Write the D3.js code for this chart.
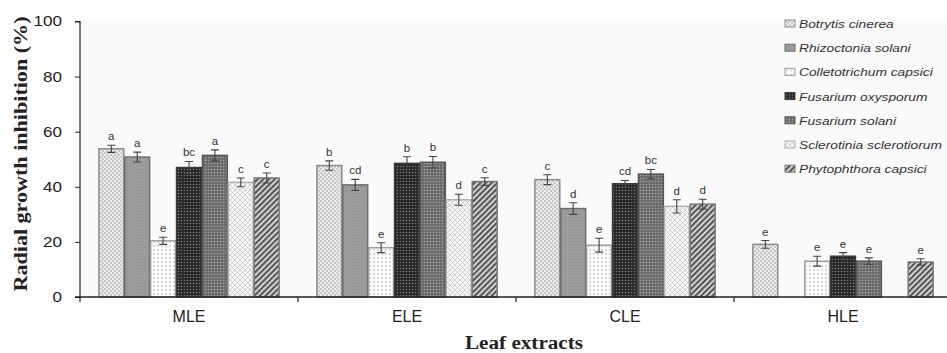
<!DOCTYPE html>
<html>
<head>
<meta charset="utf-8">
<script src="https://cdn.jsdelivr.net/npm/d3@7"></script>
<style>
  body { margin: 0; background: #fff; }
  svg { display: block; }
  .tick text { font-family: Arial, "Liberation Sans", sans-serif; }
</style>
</head>
<body>
<svg id="chart" width="947" height="353"></svg>
<script>
// leaf extracts on the x axis
var extracts = ["MLE", "ELE", "CLE", "HLE"];
var species = ["Botrytis cinerea", "Rhizoctonia solani", "Colletotrichum capsici",
  "Fusarium oxysporum", "Fusarium solani", "Sclerotinia sclerotiorum", "Phytophthora capsici"];

// mean inhibition (%) per species, in extract order MLE, ELE, CLE, HLE
var botrytis    = [53.8, 47.7, 42.6, 19.1];
var rhizoctonia = [50.8, 40.7, 32.1, 0];
var colleto     = [20.4, 17.9, 18.8, 13.0];
var fusOxy      = [47.0, 48.5, 41.1, 14.8];
var fusSolani   = [51.4, 48.9, 44.6, 13.0];
var sclero      = [41.6, 35.3, 32.9, 0];
var phyto       = [43.2, 41.9, 33.7, 12.7];

// standard errors
var errBotrytis    = [1.3, 1.7, 1.8, 1.4];
var errRhizoctonia = [1.8, 2.0, 2.1, 0];
var errColleto     = [1.3, 1.8, 2.5, 1.8];
var errFusOxy      = [2.2, 2.4, 1.2, 1.3];
var errFusSolani   = [2.0, 2.1, 1.7, 1.2];
var errSclero      = [1.6, 2.0, 2.4, 0];
var errPhyto       = [1.8, 1.4, 1.8, 1.2];

// significance letters
var lblBotrytis    = ["a", "b", "c", "e"];
var lblRhizoctonia = ["a", "cd", "d", ""];
var lblColleto     = ["e", "e", "e", "e"];
var lblFusOxy      = ["bc", "b", "cd", "e"];
var lblFusSolani   = ["a", "b", "bc", "e"];
var lblSclero      = ["c", "d", "d", ""];
var lblPhyto       = ["c", "c", "d", "e"];

var yTicks = [0, 20, 40, 60, 80, 100];

var means  = [botrytis, rhizoctonia, colleto, fusOxy, fusSolani, sclero, phyto];
var errs   = [errBotrytis, errRhizoctonia, errColleto, errFusOxy, errFusSolani, errSclero, errPhyto];
var labels = [lblBotrytis, lblRhizoctonia, lblColleto, lblFusOxy, lblFusSolani, lblSclero, lblPhyto];

var rows = [];
extracts.forEach(function (g, gi) {
  species.forEach(function (s, si) {
    rows.push({ group: g, sp: s, si: si, v: means[si][gi], e: errs[si][gi], lbl: labels[si][gi] });
  });
});

var svg = d3.select("#chart");
var plotL = 80, plotB = 297, plotT = 21.5, plotR = 952;

var x0 = d3.scaleBand().domain(extracts).range([plotL, plotR]).paddingInner(0).paddingOuter(0);
var x1 = d3.scaleBand().domain(species).range([0, x0.bandwidth()]).paddingInner(0).paddingOuter(0.71);
var y = d3.scaleLinear().domain([0, 100]).range([plotB, plotT]);

// the source figure is a bit wider than tall, so its text runs wide
function stretch(sel, k) {
  sel.each(function () {
    this.setAttribute("textLength", this.getComputedTextLength() * k);
    this.setAttribute("lengthAdjust", "spacingAndGlyphs");
  });
}

// ---- patterns ----
var defs = svg.append("defs");
function pat(id, size, bg, draw, transform) {
  var p = defs.append("pattern").attr("id", id).attr("patternUnits", "userSpaceOnUse")
    .attr("width", size).attr("height", size);
  if (transform) p.attr("patternTransform", transform);
  p.append("rect").attr("width", size).attr("height", size).attr("fill", bg);
  draw(p);
}
function dots(p, pts, r, c) {
  pts.forEach(function (pt) { p.append("circle").attr("cx", pt[0]).attr("cy", pt[1]).attr("r", r).attr("fill", c); });
}
pat("p0", 4, "#ebebeb", function (p) { dots(p, [[1, 1], [3, 3]], 0.7, "#8a8a8a"); });
pat("p1", 3, "#9c9c9c", function (p) { dots(p, [[1.5, 1.5]], 0.5, "#8a8a8a"); });
pat("p2", 4, "#fafafa", function (p) { dots(p, [[2, 2]], 0.7, "#9a9a9a"); });
pat("p3", 3, "#262626", function (p) { dots(p, [[1.5, 1.5]], 0.8, "#7a7a7a"); });
pat("p4", 3, "#6a6a6a", function (p) { dots(p, [[1.5, 1.5]], 0.8, "#a8a8a8"); });
pat("p5", 5, "#f8f8f8", function (p) {
  p.append("path").attr("d", "M0,0L5,5M5,0L0,5").attr("stroke", "#c4c4c4").attr("stroke-width", 0.8);
});
pat("p6", 4, "#d0d0d0", function (p) {
  p.append("rect").attr("width", 1.8).attr("height", 4).attr("fill", "#4a4a4a");
}, "rotate(45)");

var borders = ["#8c8c8c", "#6e6e6e", "#a0a0a0", "#3a3a3a", "#555", "#b0b0b0", "#777"];

// faint plot background
svg.append("rect").attr("x", plotL).attr("y", plotT - 2).attr("width", 947 - plotL).attr("height", plotB - plotT + 2)
  .attr("fill", "#fafafa");

// ---- bars ----
var bars = svg.append("g");
bars.selectAll("rect").data(rows).enter().append("rect")
  .attr("x", function (d) { return x0(d.group) + x1(d.sp) + 0.5; })
  .attr("y", function (d) { return y(d.v); })
  .attr("width", x1.bandwidth() - 1)
  .attr("height", function (d) { return plotB - y(d.v); })
  .attr("fill", function (d) { return "url(#p" + d.si + ")"; })
  .attr("stroke", function (d) { return borders[d.si]; })
  .attr("stroke-width", 1.5);

// error bars
var eb = svg.append("g").attr("stroke", "#444").attr("stroke-width", 1.1).attr("fill", "none");
rows.filter(function (d) { return d.v > 0; }).forEach(function (d) {
  var cx = x0(d.group) + x1(d.sp) + x1.bandwidth() / 2;
  var y1 = y(d.v + d.e), y2 = y(d.v - d.e);
  eb.append("path").attr("d", "M" + (cx - 4) + "," + y1 + "H" + (cx + 4) + "M" + cx + "," + y1 + "V" + y2 +
    "M" + (cx - 4) + "," + y2 + "H" + (cx + 4));
});

// letters
svg.append("g").selectAll("text").data(rows.filter(function (d) { return d.lbl; })).enter().append("text")
  .attr("x", function (d) { return x0(d.group) + x1(d.sp) + x1.bandwidth() / 2; })
  .attr("y", function (d) { return y(d.v + d.e) - 5; })
  .attr("text-anchor", "middle")
  .attr("font-family", "Arial, 'Liberation Sans', sans-serif")
  .attr("font-size", 11.5).attr("fill", "#333")
  .text(function (d) { return d.lbl; });

// ---- axes ----
var yAxis = svg.append("g").attr("transform", "translate(" + plotL + ",0)")
  .call(d3.axisLeft(y).tickValues(yTicks).tickSize(5).tickPadding(13));
yAxis.select(".domain").attr("stroke", "#222").attr("stroke-width", 1.2).attr("d", "M-5," + plotT + "H0V" + plotB);
yAxis.selectAll(".tick line").attr("stroke", "#222");
yAxis.selectAll(".tick text").attr("font-size", 14).attr("fill", "#222");
stretch(yAxis.selectAll(".tick text"), 1.22);

svg.append("line").attr("x1", plotL - 5).attr("x2", 947).attr("y1", plotB).attr("y2", plotB)
  .attr("stroke", "#222").attr("stroke-width", 1.3);
var xt = svg.append("g");
extracts.forEach(function (g) {
  xt.append("line").attr("x1", x0(g)).attr("x2", x0(g)).attr("y1", plotB).attr("y2", plotB + 5)
    .attr("stroke", "#222").attr("stroke-width", 1.2);
});
svg.append("g").selectAll("text").data(extracts).enter().append("text")
  .attr("x", function (d) { return x0(d) + x0.bandwidth() / 2; })
  .attr("y", 322)
  .attr("text-anchor", "middle")
  .attr("font-family", "Arial, 'Liberation Sans', sans-serif")
  .attr("font-size", 16).attr("fill", "#222")
  .text(function (d) { return d; });

// axis titles
svg.append("text").attr("x", 524).attr("y", 349).attr("text-anchor", "middle")
  .attr("font-family", "'Liberation Serif', 'Times New Roman', serif").attr("font-weight", "bold")
  .attr("font-size", 18.5).attr("fill", "#222")
  .attr("textLength", 118).attr("lengthAdjust", "spacingAndGlyphs")
  .text("Leaf extracts");
svg.append("text").attr("transform", "translate(26.5,154) rotate(-90)").attr("text-anchor", "middle")
  .attr("font-family", "'Liberation Serif', 'Times New Roman', serif").attr("font-weight", "bold")
  .attr("font-size", 18).attr("fill", "#222")
  .attr("textLength", 275).attr("lengthAdjust", "spacingAndGlyphs")
  .text("Radial growth inhibition (%)");

// ---- legend ----
var lg = svg.append("g").attr("transform", "translate(785,24)");
species.forEach(function (s, i) {
  var row = lg.append("g").attr("transform", "translate(0," + (i * 24.2) + ")");
  row.append("rect").attr("x", 0).attr("y", -4).attr("width", 10).attr("height", 7)
    .attr("fill", "url(#p" + i + ")").attr("stroke", borders[i]).attr("stroke-width", 1);
  var t = row.append("text").attr("x", 14).attr("y", 4)
    .attr("font-family", "Arial, 'Liberation Sans', sans-serif").attr("font-style", "italic")
    .attr("font-size", 11).attr("fill", "#333").text(s);
  stretch(t, 1.25);
});
</script>
</body>
</html>
